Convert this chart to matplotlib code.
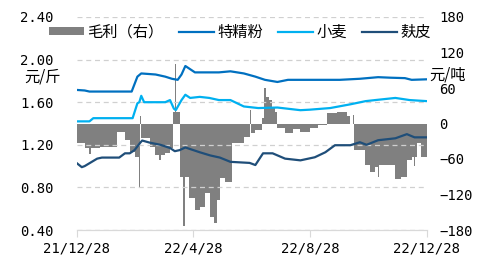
import pandas as pd
import matplotlib
matplotlib.use("Agg")
import matplotlib.pyplot as plt

plt.rcParams["font.family"] = ["DejaVu Sans Mono", "Noto Sans CJK SC"]

# 毛利（右） step data, 元/吨
margin_dates = ["2021-12-28", "2022-01-05", "2022-01-10", "2022-01-12", "2022-01-21",
                "2022-02-08", "2022-02-16", "2022-02-21", "2022-02-26", "2022-03-03",
                "2022-03-04", "2022-03-05", "2022-03-14", "2022-03-19", "2022-03-23",
                "2022-03-26", "2022-03-30", "2022-04-04", "2022-04-07", "2022-04-09",
                "2022-04-10", "2022-04-14", "2022-04-18", "2022-04-20", "2022-04-24",
                "2022-04-30", "2022-05-05", "2022-05-11", "2022-05-16", "2022-05-20",
                "2022-05-23", "2022-05-26", "2022-05-31", "2022-06-08", "2022-06-20",
                "2022-06-26", "2022-06-27", "2022-07-02", "2022-07-09", "2022-07-11",
                "2022-07-13", "2022-07-16", "2022-07-19", "2022-07-22", "2022-07-25",
                "2022-08-02", "2022-08-10", "2022-08-18", "2022-08-28", "2022-09-05",
                "2022-09-15", "2022-09-25", "2022-10-06", "2022-10-09", "2022-10-12",
                "2022-10-13", "2022-10-24", "2022-10-30", "2022-11-04", "2022-11-07",
                "2022-11-08", "2022-11-25", "2022-12-01", "2022-12-07", "2022-12-12",
                "2022-12-14", "2022-12-15", "2022-12-18", "2022-12-22", "2022-12-28"]
margin_vals = [-33, -42, -52, -42, -40,
               -14, -28, -48, -57, -109,
               12, -24, -40, -54, -62,
               -54, -50, -42, 20, 100,
               20, -90, -173, -90, -126,
               -147, -141, -118, -158, -169,
               -130, -92, -99, -33, -22,
               23, -16, -11, 10, 60,
               45, 40, 28, 20, -8,
               -16, -10, -14, -8, -2,
               18, 20, 12, 0, 14,
               -45, -70, -82, -74, -90,
               -70, -93, -91, -62, -57,
               -72, -57, -33, -57, -57]

# 特精粉 元/斤
flour_dates = ["2021-12-28", "2022-01-05", "2022-01-10", "2022-02-23", "2022-03-01",
               "2022-03-05", "2022-03-20", "2022-03-30", "2022-04-06", "2022-04-12",
               "2022-04-16", "2022-04-20", "2022-04-25", "2022-04-30", "2022-05-15",
               "2022-05-25", "2022-06-06", "2022-06-20", "2022-07-02", "2022-07-12",
               "2022-07-25", "2022-08-05", "2022-08-28", "2022-09-28", "2022-10-19",
               "2022-11-07", "2022-11-20", "2022-12-05", "2022-12-12", "2022-12-28"]
flour_vals = [1.715, 1.71, 1.70, 1.70, 1.84,
              1.87, 1.86, 1.84, 1.82, 1.81,
              1.86, 1.94, 1.91, 1.88, 1.88,
              1.88, 1.89, 1.87, 1.84, 1.81,
              1.79, 1.81, 1.81, 1.81, 1.82,
              1.835, 1.83, 1.826, 1.81, 1.815]

# 小麦 元/斤
wheat_dates = ["2021-12-28", "2022-01-10", "2022-01-14", "2022-02-24", "2022-03-01",
               "2022-03-03", "2022-03-05", "2022-03-08", "2022-03-30", "2022-04-04",
               "2022-04-08", "2022-04-10", "2022-04-16", "2022-04-20", "2022-04-25",
               "2022-05-05", "2022-05-15", "2022-05-25", "2022-06-06", "2022-06-20",
               "2022-07-05", "2022-07-25", "2022-08-18", "2022-08-28", "2022-09-18",
               "2022-10-09", "2022-10-25", "2022-11-04", "2022-11-25", "2022-12-10",
               "2022-12-28"]
wheat_vals = [1.42, 1.42, 1.45, 1.45, 1.59,
              1.60, 1.66, 1.60, 1.60, 1.62,
              1.54, 1.525, 1.62, 1.67, 1.64,
              1.65, 1.64, 1.62, 1.62, 1.56,
              1.545, 1.55, 1.525, 1.53, 1.545,
              1.58, 1.61, 1.62, 1.64, 1.62,
              1.61]

# 麸皮 元/斤
bran_dates = ["2021-12-28", "2022-01-02", "2022-01-05", "2022-01-18", "2022-01-23",
              "2022-02-10", "2022-02-16", "2022-02-21", "2022-02-26", "2022-03-04",
              "2022-03-06", "2022-03-14", "2022-03-25", "2022-04-04", "2022-04-09",
              "2022-04-14", "2022-04-20", "2022-04-25", "2022-05-05", "2022-05-16",
              "2022-05-26", "2022-06-06", "2022-06-26", "2022-07-02", "2022-07-10",
              "2022-07-20", "2022-08-02", "2022-08-18", "2022-09-02", "2022-09-13",
              "2022-09-23", "2022-10-09", "2022-10-19", "2022-10-26", "2022-11-07",
              "2022-11-25", "2022-12-07", "2022-12-15", "2022-12-28"]
bran_vals = [1.026, 0.99, 1.0, 1.07, 1.08,
             1.08, 1.12, 1.12, 1.15, 1.22,
             1.24, 1.22, 1.20, 1.17, 1.14,
             1.15, 1.175, 1.16, 1.13, 1.10,
             1.08, 1.04, 1.03, 1.01, 1.12,
             1.12, 1.07, 1.054, 1.083, 1.13,
             1.196, 1.196, 1.224, 1.20, 1.243,
             1.261, 1.30, 1.27, 1.27]

tick_dates = ["2021-12-28", "2022-04-28", "2022-08-28", "2022-12-28"]
tick_labels = ["21/12/28", "22/4/28", "22/8/28", "22/12/28"]

c_margin = "#808080"
c_flour = "#0070C0"
c_wheat = "#00B0F0"
c_bran = "#1F4E79"

fig = plt.figure(figsize=(4.82, 2.56), dpi=100)
ax = fig.add_axes([77 / 482, 1 - 230 / 256, 350 / 482, 213 / 256])
ax2 = ax.twinx()
ax.set_zorder(ax2.get_zorder() + 1)
ax.patch.set_visible(False)

ax2.fill_between(pd.to_datetime(margin_dates), margin_vals, 0, step="post",
                 color=c_margin, lw=0, label="毛利（右）")
ax.plot(pd.to_datetime(flour_dates), flour_vals, color=c_flour, lw=1.6, label="特精粉")
ax.plot(pd.to_datetime(wheat_dates), wheat_vals, color=c_wheat, lw=1.6, label="小麦")
ax.plot(pd.to_datetime(bran_dates), bran_vals, color=c_bran, lw=1.6, label="麸皮")

ax.set_ylim(0.40, 2.40)
ax.set_yticks([0.40, 0.80, 1.20, 1.60, 2.00, 2.40])
ax.set_yticklabels(["0.40", "0.80", "1.20", "1.60", "2.00", "2.40"])
ax2.set_ylim(-180, 180)
ax2.set_yticks([-180, -120, -60, 0, 60, 120, 180])
ax2.set_yticklabels(["−180", "−120", "−60", "0", "60", "120", "180"])

ax.set_xlim(pd.Timestamp("2021-12-28"), pd.Timestamp("2022-12-28"))
ax.set_xticks(pd.to_datetime(tick_dates))
ax.set_xticklabels(tick_labels)

ax.grid(axis="y", color="#d0d0d0", ls=(0, (4, 3)), lw=0.9)
ax.grid(axis="x", visible=False)
for a in (ax, ax2):
    for s in ("left", "right", "top"):
        a.spines[s].set_visible(False)
    a.spines["bottom"].set_color("#d9d9d9")
ax.tick_params(axis="y", length=0, pad=17, labelsize=10)
ax2.tick_params(axis="y", length=0, pad=9, labelsize=10)
ax.tick_params(axis="x", length=5, color="#d9d9d9", labelsize=10, pad=3)

fig.text(43 / 482, 1 - 77 / 256, "元/斤", ha="center", va="center",
         fontsize=11, family=["Noto Sans CJK SC"])
fig.text(448 / 482, 1 - 75 / 256, "元/吨", ha="center", va="center",
         fontsize=11, family=["Noto Sans CJK SC"])

h2, l2 = ax2.get_legend_handles_labels()
h1, l1 = ax.get_legend_handles_labels()
leg = fig.legend(h2 + h1, l2 + l1, loc="center", bbox_to_anchor=(240 / 482, 1 - 32 / 256),
                 ncol=4, frameon=False, handlelength=2.3, handleheight=0.5,
                 handletextpad=0.2, columnspacing=1.0, borderpad=0, borderaxespad=0,
                 prop={"family": "Noto Sans CJK SC", "size": 11})

fig.savefig("out.png", dpi=100)
